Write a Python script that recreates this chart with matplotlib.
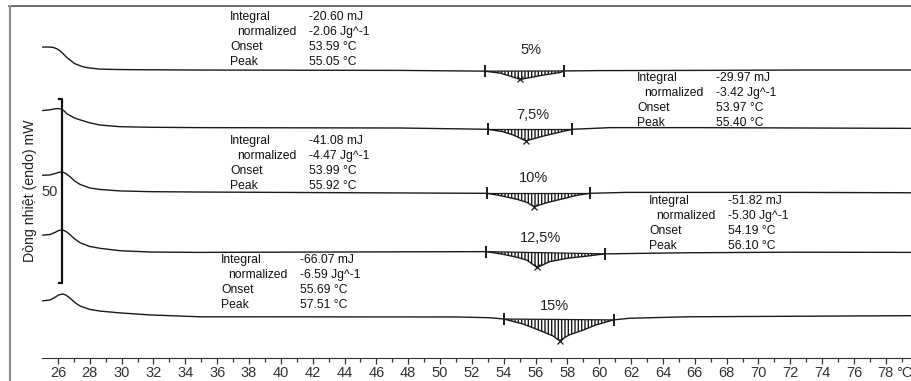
import numpy as np
import matplotlib
matplotlib.use('Agg')
import matplotlib.pyplot as plt
from matplotlib.lines import Line2D

plt.rcParams['font.family'] = ['Liberation Sans', 'DejaVu Sans']

# DSC curves (temperature in degC, heat flow in mW, curves already shifted)
temps_5 = [25.05, 25.5, 25.7, 25.95, 26.15, 26.3, 26.5, 26.75, 27.05, 27.4, 27.7, 28.0,
           28.65, 29.6, 30.7, 34.9, 41.2, 47.5,
           52.8, 53.8, 54.4, 55.05, 55.65, 56.5, 57.55, 57.8, 60.0, 66.0, 72.6, 79.7]
flow_5 = [84.5, 84.5, 84.4, 84.0, 83.4, 82.8, 81.9, 81.0, 80.0, 79.4, 79.0, 78.8,
          78.5, 78.4, 78.35, 78.25, 78.2, 78.15,
          77.95, 77.4, 76.6, 75.7, 76.2, 76.9, 77.6, 78.0, 78.1, 78.15, 78.25, 78.25]

temps_75 = [25.05, 25.5, 25.8, 26.0, 26.2, 26.4, 26.55, 26.75, 27.05, 27.4, 28.0, 28.65,
            29.9, 31.8, 34.9, 47.5,
            53.0, 53.95, 54.6, 55.4, 56.3, 57.35, 58.3, 60.7, 66.3, 79.7]
flow_75 = [67.25, 67.45, 67.7, 67.8, 67.65, 67.1, 66.4, 65.9, 65.2, 64.7, 63.9, 63.3,
           62.85, 62.7, 62.6, 62.5,
           62.15, 61.5, 60.6, 59.0, 60.1, 61.2, 62.15, 62.6, 62.6, 62.4]

temps_10 = [25.05, 25.5, 25.8, 26.05, 26.3, 26.5, 26.75, 27.05, 27.4, 28.0, 28.65, 29.9,
            31.8, 34.9, 47.5,
            52.95, 53.95, 54.85, 55.45, 55.92, 56.7, 57.55, 58.6, 59.4, 61.7, 72.6, 79.7]
flow_10 = [49.65, 49.75, 50.1, 50.45, 50.55, 50.1, 49.3, 48.1, 47.15, 46.2, 45.8, 45.4,
           45.2, 45.1, 44.85,
           44.75, 44.0, 43.1, 42.3, 41.1, 42.2, 43.1, 44.2, 44.75, 45.0, 45.0, 44.9]

temps_125 = [25.05, 25.5, 25.8, 26.05, 26.3, 26.5, 26.75, 27.05, 27.4, 28.0, 28.65, 29.9,
             31.8, 34.9, 47.5,
             52.9, 53.95, 54.85, 55.45, 56.1, 56.9, 58.0, 59.25, 60.35, 65.6, 71.9, 79.7]
flow_125 = [33.4, 33.55, 34.1, 34.65, 34.8, 34.4, 33.55, 32.35, 31.3, 30.3, 29.8, 29.15,
            28.8, 28.7, 28.85,
            28.9, 28.2, 27.35, 26.6, 24.6, 26.2, 27.1, 27.7, 28.3, 28.6, 28.75, 28.7]

temps_15 = [25.05, 25.5, 25.8, 26.05, 26.3, 26.5, 26.75, 27.05, 27.4, 28.0, 28.65, 29.9,
            31.8, 34.9, 51.0,
            53.1, 54.0, 55.2, 56.2, 57.1, 57.51, 58.1, 59.0, 59.8, 60.9, 61.9, 65.6, 79.7]
flow_15 = [15.55, 15.75, 16.45, 17.15, 17.4, 17.1, 16.3, 15.1, 14.1, 13.2, 12.75, 12.25,
           11.7, 11.2, 11.15,
           10.95, 10.6, 9.25, 7.6, 6.0, 4.7, 6.25, 7.6, 9.0, 10.35, 10.8, 11.2, 11.5]

curve_labels = ['5%', '7,5%', '10%', '12,5%', '15%']
limits_lo = [52.8, 53.0, 52.95, 52.9, 54.0]
limits_hi = [57.8, 58.3, 59.4, 60.35, 60.9]

integral_mj = [-20.60, -29.97, -41.08, -51.82, -66.07]
normalized_jg = [-2.06, -3.42, -4.47, -5.30, -6.59]
onset_c = [53.59, 53.97, 53.99, 54.19, 55.69]
peak_c = [55.05, 55.40, 55.92, 56.10, 57.51]

scale_mw = 50

curves = [(temps_5, flow_5), (temps_75, flow_75), (temps_10, flow_10),
          (temps_125, flow_125), (temps_15, flow_15)]

fig = plt.figure(figsize=(9.12, 3.81), dpi=100)
ax = fig.add_axes([0, 1 - 358 / 381, 1, (358 - 5) / 381])
ax.set_xlim(22.36, 22.36 + 912 / 15.92)
ax.set_ylim(0, (358 - 5) / 3.68)

label_pos = [(55.72, 83.7), (55.84, 66.0), (55.84, 48.9), (56.28, 32.6), (57.16, 14.1)]

for i, (t, y) in enumerate(curves):
    t = np.array(t)
    y = np.array(y)
    ax.plot(t, y, color='#1a1a1a', lw=1.0)
    lo, hi = limits_lo[i], limits_hi[i]
    y_lo = y[np.argmin(abs(t - lo))]
    y_hi = y[np.argmin(abs(t - hi))]
    m = (t >= lo) & (t <= hi)
    base = y_lo + (y_hi - y_lo) * (t[m] - lo) / (hi - lo)
    ax.fill_between(t[m], y[m], base, facecolor='none', edgecolor='#1a1a1a',
                    hatch='|||||', lw=0)
    ax.plot([lo, hi], [y_lo, y_hi], color='#1a1a1a', lw=0.9)
    ax.plot([lo, hi], [y_lo, y_hi], ls='none', marker='|', ms=9, mew=1.4, color='#1a1a1a')
    k = np.argmin(y[m])
    ax.plot(t[m][k], y[m][k], marker='x', ms=4, mew=0.9, color='#1a1a1a')
    ax.text(label_pos[i][0], label_pos[i][1], curve_labels[i], ha='center', va='center',
            fontsize=10.5, color='#222222')

# result blocks
block_pos = [(36.81, 41.77, 92.66), (62.37, 67.33, 76.1), (36.81, 41.77, 58.97),
             (63.13, 68.09, 42.66), (36.24, 41.2, 26.63)]
dy = 15 / 3.68
for i, (xl, xv, y0) in enumerate(block_pos):
    names = ['Integral', 'normalized', 'Onset', 'Peak']
    vals = [f'{integral_mj[i]:.2f} mJ', f'{normalized_jg[i]:.2f} Jg^-1',
            f'{onset_c[i]:.2f} °C', f'{peak_c[i]:.2f} °C']
    for j in range(4):
        dx = 0.44 if j == 1 else 0
        ax.text(xl + dx, y0 - j * dy, names[j], ha='left', va='center', fontsize=8.7,
                color='#111111')
        ax.text(xv, y0 - j * dy, vals[j], ha='left', va='center', fontsize=8.7,
                color='#111111')

# scale bar
sx = 26.25
y_bot = (358 - 283) / 3.68
ax.plot([sx - 0.2, sx, sx, sx - 0.2], [y_bot + scale_mw, y_bot + scale_mw, y_bot, y_bot],
        color='#111111', lw=1.6)
ax.text(25.5, 45.1, str(scale_mw), ha='center', va='center', fontsize=10.5, color='#333333')
ax.text(24.24, 45.4, 'Dòng nhiệt (endo) mW', rotation=90, ha='center', va='center',
        fontsize=10.2, color='#222222')

# x axis
for s in ['left', 'right', 'top']:
    ax.spines[s].set_visible(False)
ax.spines['bottom'].set_bounds(25.0, 79.646)
ax.spines['bottom'].set_color('#333333')
ax.set_yticks([])
ax.set_xticks(np.arange(26, 79, 2))
ax.set_xticks(np.arange(27, 80, 2), minor=True)
ax.tick_params(axis='x', which='major', direction='out', length=4.5, width=0.9,
               color='#333333', labelsize=10.5, labelcolor='#333333', pad=1.5)
ax.tick_params(axis='x', which='minor', direction='out', length=3, width=0.9, color='#333333')
fig.text(896 / 912, 1 - 373 / 381, '°C', ha='left', va='center', fontsize=10.5, color='#333333')

# scan frame
fig.add_artist(Line2D([9 / 912, 1], [1 - 5.5 / 381, 1 - 5.5 / 381], color='#555555', lw=1.2))
fig.add_artist(Line2D([10 / 912, 10 / 912], [0, 1 - 5.5 / 381], color='#8c8c8c', lw=1.6))

fig.savefig('out.png', dpi=100)
